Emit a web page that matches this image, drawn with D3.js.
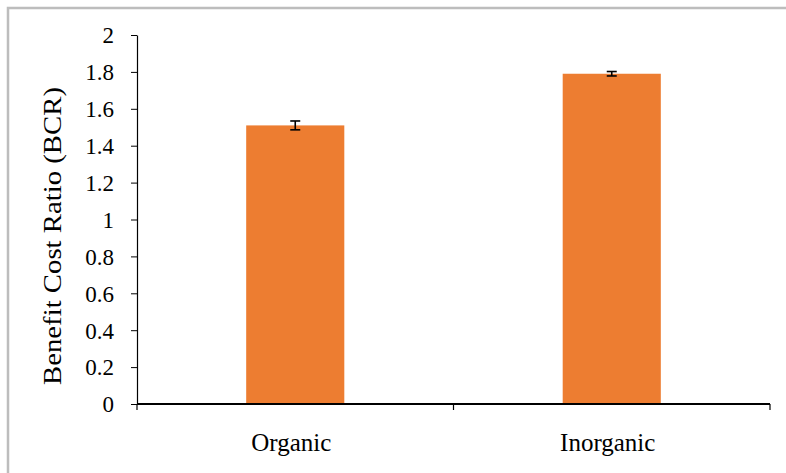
<!DOCTYPE html>
<html>
<head>
<meta charset="utf-8">
<script src="https://cdn.jsdelivr.net/npm/d3@7"></script>
<style>
  body { margin: 0; background: #fff; }
  svg { display: block; font-family: "Liberation Serif", "Times New Roman", serif; }
  .axis path, .axis line { stroke: #000; }
  .axis text { fill: #000; font-family: "Liberation Serif", "Times New Roman", serif; }
</style>
</head>
<body>
<div id="chart"></div>
<script>
// --- DATOS ---
const categories = ["Organic", "Inorganic"];
const bcrValues = [1.51, 1.79];
const bcrErrors = [0.024, 0.012];
const yTicks = [0, 0.2, 0.4, 0.6, 0.8, 1, 1.2, 1.4, 1.6, 1.8, 2];

// --- CONFIGURACIÓN ---
const W = 786, H = 473;
const margin = { top: 35, right: 16, bottom: 69, left: 137 };
const width = W - margin.left - margin.right;
const height = H - margin.top - margin.bottom;
const font = '"Liberation Serif", "Times New Roman", serif';

const svg = d3.select("#chart").append("svg")
    .attr("width", W).attr("height", H);

// marco gris
svg.append("rect")
    .attr("x", 8).attr("y", 8)
    .attr("width", W + 10).attr("height", H + 10)
    .attr("fill", "none").attr("stroke", "#bdbdbd").attr("stroke-width", 2.5);

const g = svg.append("g").attr("transform", `translate(${margin.left},${margin.top})`);

const x = d3.scaleBand().domain(categories).range([0, width]).paddingInner(0.69).paddingOuter(0.345);
const xEdge = d3.scaleBand().domain(categories).range([0, width]);
const y = d3.scaleLinear().domain([0, 2]).range([height, 0]);

// barras
g.selectAll(".bar").data(categories).enter().append("rect")
    .attr("class", "bar")
    .attr("x", d => x(d))
    .attr("width", x.bandwidth())
    .attr("y", (d, i) => y(bcrValues[i]))
    .attr("height", (d, i) => y(0) - y(bcrValues[i]))
    .attr("fill", "#ED7D31");

// barras de error
const capW = 5;
const err = g.selectAll(".err").data(categories).enter().append("g").attr("class", "err")
    .attr("stroke", "#000").attr("stroke-width", 1.6);
err.append("line")
    .attr("x1", d => x(d) + x.bandwidth() / 2).attr("x2", d => x(d) + x.bandwidth() / 2)
    .attr("y1", (d, i) => y(bcrValues[i] + bcrErrors[i]))
    .attr("y2", (d, i) => y(bcrValues[i] - bcrErrors[i]));
err.append("line")
    .attr("x1", d => x(d) + x.bandwidth() / 2 - capW).attr("x2", d => x(d) + x.bandwidth() / 2 + capW)
    .attr("y1", (d, i) => y(bcrValues[i] + bcrErrors[i]))
    .attr("y2", (d, i) => y(bcrValues[i] + bcrErrors[i]));
err.append("line")
    .attr("x1", d => x(d) + x.bandwidth() / 2 - capW).attr("x2", d => x(d) + x.bandwidth() / 2 + capW)
    .attr("y1", (d, i) => y(bcrValues[i] - bcrErrors[i]))
    .attr("y2", (d, i) => y(bcrValues[i] - bcrErrors[i]));

// eje Y
const yAxis = g.append("g").attr("class", "axis axis--y")
    .call(d3.axisLeft(y).tickValues(yTicks).tickSize(6).tickPadding(17).tickSizeOuter(0).tickFormat(d3.format("~g")));
yAxis.attr("font-family", null);
yAxis.selectAll("text")
    .style("font-family", font)
    .style("font-size", "23px")
    .attr("dy", "0.34em");
yAxis.select(".domain").attr("stroke-width", 1.2);

// eje X: ticks en los bordes de las bandas
const xAxisG = g.append("g").attr("class", "axis axis--x")
    .attr("transform", `translate(0,${height})`);
xAxisG.append("line").attr("x1", 0).attr("x2", width).attr("stroke", "#000").attr("stroke-width", 2);
const edges = categories.map(d => xEdge(d)).concat([width]);
xAxisG.selectAll(".tick").data(edges).enter().append("line")
    .attr("x1", d => d).attr("x2", d => d).attr("y1", 0).attr("y2", 6)
    .attr("stroke", "#000").attr("stroke-width", 1.2);
xAxisG.selectAll(".lbl").data(categories).enter().append("text")
    .attr("x", d => x(d) + x.bandwidth() / 2 - 4)
    .attr("y", 47)
    .attr("text-anchor", "middle")
    .style("font-size", "25px")
    .text(d => d);

// título del eje Y
svg.append("text")
    .attr("transform", `translate(61,236) rotate(-90)`)
    .attr("text-anchor", "middle")
    .style("font-size", "25px")
    .attr("textLength", 298)
    .attr("lengthAdjust", "spacingAndGlyphs")
    .text("Benefit Cost Ratio (BCR)");
</script>
</body>
</html>
